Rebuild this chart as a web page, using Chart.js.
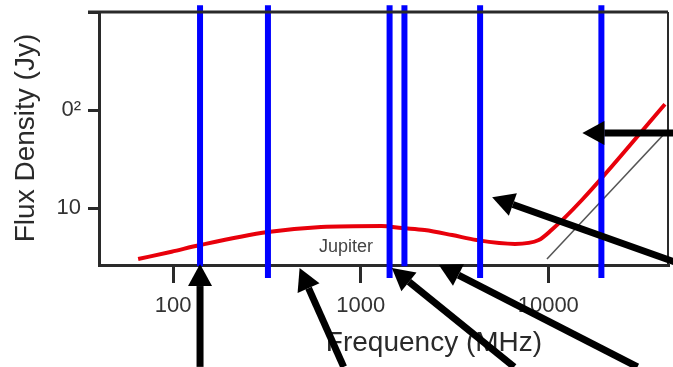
<!DOCTYPE html>
<html>
<head>
<meta charset="utf-8">
<script src="https://cdn.jsdelivr.net/npm/chart.js@4"></script>
<style>
  html, body { margin: 0; padding: 0; background: #fff; }
  #wrap { width: 673px; height: 367px; }
</style>
</head>
<body>
<div id="wrap"><canvas id="chart" width="673" height="367"></canvas></div>
<script>
// Jupiter radio spectrum (MHz, Jy)
const redFreq = [65, 98, 139, 320, 614, 1290, 1657, 2190, 3070, 4150, 6640, 8900, 10400, 15070, 41900];
const redFlux = [3.05, 3.62, 4.23, 5.74, 6.46, 6.61, 6.3, 6.01, 5.35, 4.76, 4.34, 4.76, 6.01, 12.1, 115];

// thin black reference line
const grayFreq = [9840, 44400];
const grayFlux = [3.05, 65.6];

// blue marker lines (frequency, top and bottom flux)
const blueFreq = [139, 320, 1425, 1710, 4330, 19200];
const blueTop = [1170, 1170, 1170, 1170, 1170, 1170];
const blueBottom = [2.57, 1.95, 1.95, 2.57, 1.95, 1.95];

// arrows: tail -> tip
const arrowTailFreq = [139, 811, 6580, 29900, 47300, 47300];
const arrowTailFlux = [0.243, 0.243, 0.243, 0.243, 2.84, 58.4];
const arrowTipFreq = [139, 472, 1465, 2610, 5020, 15200];
const arrowTipFlux = [2.71, 2.47, 2.47, 2.65, 13.0, 58.4];

const xTicks = [100, 1000, 10000];
const yTicks = [10, 100, 1000];
const yTickLabels = ["10", "0\u00b2", ""];

const FONT = "'Liberation Sans', Arial, sans-serif";
const INK = "#2a2a2a";

function pts(xs, ys) {
  return xs.map((x, i) => ({ x: x, y: ys[i] }));
}

const datasets = [];
blueFreq.forEach((f, i) => {
  datasets.push({
    data: [{ x: f, y: blueBottom[i] }, { x: f, y: blueTop[i] }],
    showLine: true,
    borderColor: "#0000ff",
    borderWidth: 6,
    borderCapStyle: "butt",
    pointRadius: 0,
    clip: false,
    order: 0,
  });
});
datasets.push({
  data: pts(redFreq, redFlux),
  showLine: true,
  borderColor: "#e8000b",
  borderWidth: 4,
  pointRadius: 0,
  cubicInterpolationMode: "monotone",
  order: 1,
});
datasets.push({
  data: pts(grayFreq, grayFlux),
  showLine: true,
  borderColor: "#555",
  borderWidth: 1.5,
  pointRadius: 0,
  order: 2,
});

const decor = {
  id: "decor",
  afterDraw(chart) {
    const { ctx, chartArea: a, scales } = chart;
    const xs = scales.x, ys = scales.y;
    ctx.save();

    // top and right frame
    ctx.strokeStyle = INK;
    ctx.lineWidth = 3;
    ctx.beginPath();
    ctx.moveTo(a.left - 11, a.top);
    ctx.lineTo(a.right, a.top);
    ctx.stroke();
    ctx.lineWidth = 2;
    ctx.beginPath();
    ctx.moveTo(a.right, a.top);
    ctx.lineTo(a.right, a.bottom);
    ctx.stroke();

    // titles
    ctx.fillStyle = INK;
    ctx.font = "28px " + FONT;
    ctx.textAlign = "center";
    ctx.textBaseline = "middle";
    ctx.fillText("Frequency (MHz)", 434, 343);
    ctx.save();
    ctx.translate(26, 138);
    ctx.rotate(-Math.PI / 2);
    ctx.fillText("Flux Density (Jy)", 0, 0);
    ctx.restore();

    ctx.font = "18px " + FONT;
    ctx.fillStyle = "#444";
    ctx.fillText("Jupiter", 346, 247);

    // arrows
    ctx.fillStyle = "#000";
    ctx.strokeStyle = "#000";
    for (let i = 0; i < arrowTipFreq.length; i++) {
      const x0 = xs.getPixelForValue(arrowTailFreq[i]);
      const y0 = ys.getPixelForValue(arrowTailFlux[i]);
      const x1 = xs.getPixelForValue(arrowTipFreq[i]);
      const y1 = ys.getPixelForValue(arrowTipFlux[i]);
      const ang = Math.atan2(y1 - y0, x1 - x0);
      const hl = 22, hw = 12;
      const bx = x1 - hl * Math.cos(ang), by = y1 - hl * Math.sin(ang);
      ctx.lineWidth = 7;
      ctx.beginPath();
      ctx.moveTo(x0, y0);
      ctx.lineTo(bx, by);
      ctx.stroke();
      ctx.beginPath();
      ctx.moveTo(x1, y1);
      ctx.lineTo(bx + hw * Math.sin(ang), by - hw * Math.cos(ang));
      ctx.lineTo(bx - hw * Math.sin(ang), by + hw * Math.cos(ang));
      ctx.closePath();
      ctx.fill();
    }
    ctx.restore();
  },
};

new Chart(document.getElementById("chart"), {
  type: "scatter",
  data: { datasets: datasets },
  options: {
    responsive: false,
    animation: false,
    layout: { padding: { top: 12, right: 5, left: 0, bottom: 0 } },
    plugins: { legend: { display: false }, tooltip: { enabled: false } },
    scales: {
      x: {
        type: "logarithmic",
        min: 40.2,
        max: 43500,
        afterBuildTicks: (s) => { s.ticks = xTicks.map((v) => ({ value: v })); },
        afterFit: (s) => { s.height = 102; s.paddingLeft = 0; s.paddingRight = 0; },
        border: { display: true, color: INK, width: 3 },
        grid: { drawOnChartArea: false, drawTicks: true, tickLength: 18, lineWidth: 3, color: INK },
        ticks: {
          autoSkip: false,
          maxRotation: 0,
          padding: 10,
          color: "#333",
          font: { family: FONT, size: 22 },
          callback: (v) => String(v),
        },
      },
      y: {
        type: "logarithmic",
        min: 2.65,
        max: 1000,
        afterBuildTicks: (s) => { s.ticks = yTicks.map((v) => ({ value: v })); },
        afterFit: (s) => { s.width = 99; s.paddingTop = 0; s.paddingBottom = 0; },
        border: { display: true, color: INK, width: 3 },
        grid: { drawOnChartArea: false, drawTicks: true, tickLength: 11, lineWidth: 3, color: INK },
        ticks: {
          autoSkip: false,
          padding: 7,
          color: "#333",
          font: { family: FONT, size: 22 },
          callback: (v) => yTickLabels[yTicks.indexOf(v)],
        },
      },
    },
  },
  plugins: [decor],
});
</script>
</body>
</html>
